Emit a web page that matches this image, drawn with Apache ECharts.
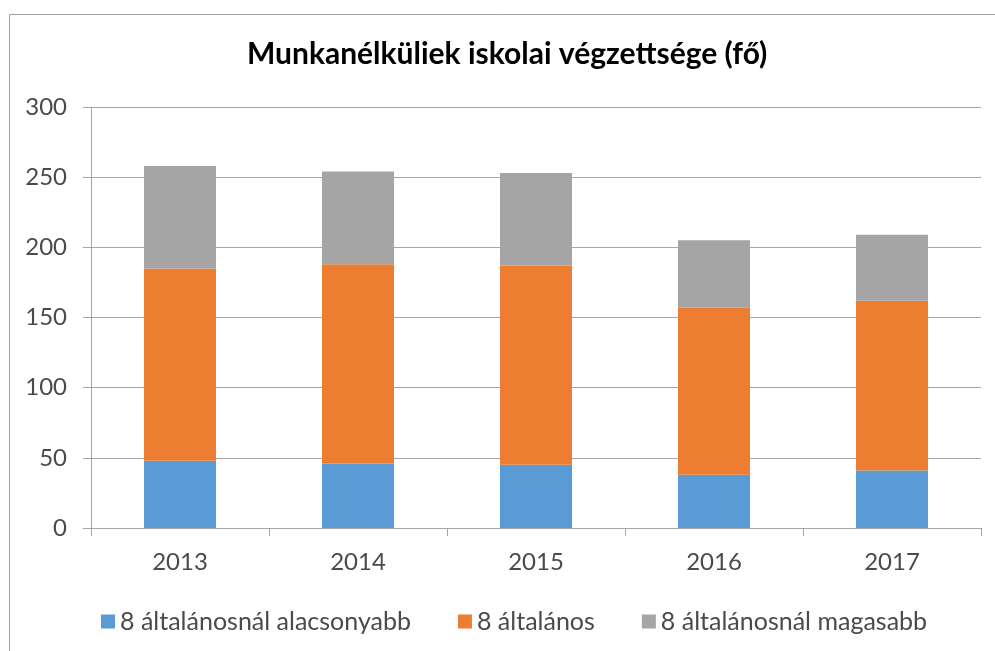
<!DOCTYPE html>
<html>
<head>
<meta charset="utf-8">
<title>Munkanélküliek iskolai végzettsége</title>
<script src="https://cdn.jsdelivr.net/npm/echarts@6/dist/echarts.min.js"></script>
<style>
	html, body { margin: 0; padding: 0; background: #fff; }
	#main { width: 995px; height: 651px; }
</style>
</head>
<body>
<div id="main"></div>
<script>
// adatok (fő)
var years = ['2013', '2014', '2015', '2016', '2017'];
var alacsonyabb = [48, 46, 45, 38, 41];
var altalanos = [137, 142, 142, 119, 121];
var magasabb = [73, 66, 66, 48, 47];
var seriesNames = ['8 általánosnál alacsonyabb', '8 általános', '8 általánosnál magasabb'];
var yTicks = [0, 50, 100, 150, 200, 250, 300];

var colors = ['#5b9bd5', '#ed7d31', '#a5a5a5'];
var font = 'Lato, "Open Sans", sans-serif';

var chart = echarts.init(document.getElementById('main'));

function barSeries(name, data, color) {
	return {
		name: name,
		type: 'bar',
		stack: 'total',
		data: data,
		barWidth: 72,
		itemStyle: { color: color },
		emphasis: { disabled: true }
	};
}

var option = {
	animation: false,
	title: {
		text: 'Munkanélküliek iskolai végzettsége (fő)',
		left: 247,
		top: 39,
		padding: 0,
		textStyle: { fontFamily: font, fontSize: 30, fontWeight: 'bold', color: '#000' }
	},
	legend: {
		data: seriesNames,
		left: 101,
		top: 609,
		padding: 0,
		icon: 'rect',
		itemWidth: 14,
		itemHeight: 14,
		itemGap: 47,
		textStyle: { fontFamily: font, fontSize: 25, color: '#4a4a4a' }
	},
	grid: { left: 91, right: 14, top: 107, bottom: 123, containLabel: false },
	xAxis: {
		type: 'category',
		data: years,
		axisLine: { lineStyle: { color: '#a6a6a6', width: 1 } },
		axisTick: { show: true, length: 8, lineStyle: { color: '#a6a6a6' } },
		axisLabel: { margin: 22, fontFamily: font, fontSize: 24, color: '#4a4a4a' }
	},
	yAxis: {
		type: 'value',
		min: yTicks[0],
		max: yTicks[yTicks.length - 1],
		interval: 50,
		axisLine: { show: true, lineStyle: { color: '#a6a6a6', width: 1 } },
		axisTick: { show: true, length: 8, lineStyle: { color: '#a6a6a6' } },
		splitLine: { lineStyle: { color: '#a6a6a6', width: 1 } },
		axisLabel: { margin: 24, fontFamily: font, fontSize: 24, color: '#4a4a4a' }
	},
	graphic: [{
		type: 'rect',
		shape: { x: 9.5, y: 14.5, width: 1000, height: 700 },
		style: { fill: 'none', stroke: '#a0a0a0', lineWidth: 1 },
		z: -1
	}],
	series: [
		barSeries(seriesNames[0], alacsonyabb, colors[0]),
		barSeries(seriesNames[1], altalanos, colors[1]),
		barSeries(seriesNames[2], magasabb, colors[2])
	]
};
chart.setOption(option);
</script>
</body>
</html>
